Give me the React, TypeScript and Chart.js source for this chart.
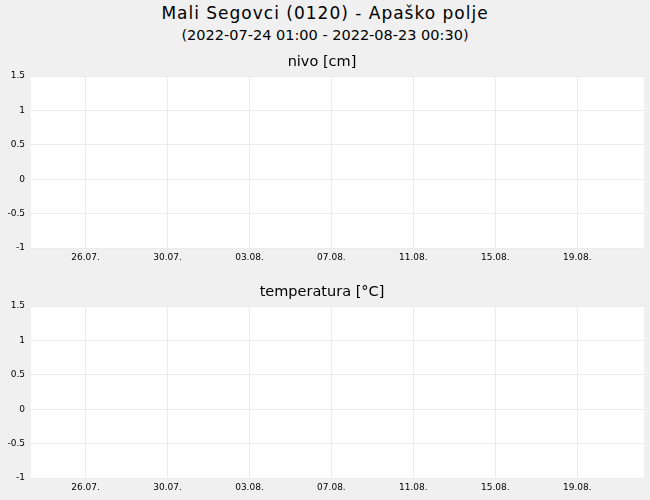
import React, { useEffect, useRef } from "react";
import { Chart, registerables } from "chart.js";

Chart.register(...registerables);

const chartTitle = "Mali Segovci (0120) - Apaško polje";
const chartSubtitle = "(2022-07-24 01:00 - 2022-08-23 00:30)";
const panelTitles = ["nivo [cm]", "temperatura [°C]"];

// no measurements in the period: both series are empty
const nivoValues: { x: number; y: number }[] = [];
const temperaturaValues: { x: number; y: number }[] = [];

const xMin = Date.UTC(2022, 6, 23, 8, 5);
const xMax = Date.UTC(2022, 7, 22, 6, 10);
const xTickDates = [
  Date.UTC(2022, 6, 26),
  Date.UTC(2022, 6, 30),
  Date.UTC(2022, 7, 3),
  Date.UTC(2022, 7, 7),
  Date.UTC(2022, 7, 11),
  Date.UTC(2022, 7, 15),
  Date.UTC(2022, 7, 19),
];
const yMin = -1;
const yMax = 1.5;
const yStep = 0.5;

const FONT = "'DejaVu Sans', sans-serif";
const GRID = "#ebebeb";

function fmtDate(v: number) {
  const d = new Date(v);
  const dd = String(d.getUTCDate()).padStart(2, "0");
  const mm = String(d.getUTCMonth() + 1).padStart(2, "0");
  return `${dd}.${mm}.`;
}

const plotBg = {
  id: "plotBg",
  beforeDraw(chart: any) {
    const { ctx, chartArea } = chart;
    if (!chartArea) return;
    ctx.save();
    ctx.fillStyle = "#ffffff";
    ctx.fillRect(chartArea.left, chartArea.top, chartArea.right - chartArea.left, chartArea.bottom - chartArea.top);
    ctx.restore();
  },
};

function Panel({ title, values, top }: { title: string; values: { x: number; y: number }[]; top: number }) {
  const ref = useRef<HTMLCanvasElement | null>(null);
  useEffect(() => {
    if (!ref.current) return;
    const chart = new Chart(ref.current, {
      type: "line",
      data: {
        datasets: [
          {
            label: title,
            data: values,
            borderColor: "#1f5fbf",
            borderWidth: 1,
            pointRadius: 0,
          },
        ],
      },
      options: {
        animation: false,
        responsive: false,
        devicePixelRatio: 1,
        layout: { padding: { left: 0, right: 6, top: 0, bottom: 0 } },
        plugins: {
          legend: { display: false },
          tooltip: { enabled: false },
          title: {
            display: true,
            text: title,
            color: "#000",
            font: { family: FONT, size: 14.5, weight: "normal", lineHeight: 1 },
            padding: { top: 9, bottom: 6.5 },
          },
        },
        scales: {
          x: {
            type: "linear",
            min: xMin,
            max: xMax,
            grid: { color: GRID, drawTicks: false },
            border: { display: false },
            ticks: {
              color: "#000",
              font: { family: FONT, size: 9 },
              padding: 4,
              maxRotation: 0,
              autoSkip: false,
              callback: (v: any) => fmtDate(Number(v)),
            },
            afterBuildTicks: (s: any) => {
              s.ticks = xTickDates.map((v) => ({ value: v }));
            },
            afterFit: (s: any) => {
              s.height = 20;
            },
          },
          y: {
            min: yMin,
            max: yMax,
            grid: { color: GRID, drawTicks: false },
            border: { display: false },
            ticks: {
              stepSize: yStep,
              color: "#000",
              font: { family: FONT, size: 9 },
              padding: 6,
              callback: (v: any) => String(Number(v)),
            },
            afterFit: (s: any) => {
              s.width = 31;
            },
          },
        },
      },
      plugins: [plotBg],
    } as any);
    return () => chart.destroy();
  }, [title, values]);
  return (
    <div style={{ position: "absolute", left: 0, top, width: 650, height: 222 }}>
      <canvas ref={ref} width={650} height={222} style={{ display: "block" }} />
    </div>
  );
}

export default function App() {
  return (
    <div
      style={{
        position: "absolute",
        left: 0,
        top: 0,
        width: 650,
        height: 500,
        background: "#f0f0f0",
        fontFamily: FONT,
        color: "#000",
        overflow: "hidden",
      }}
    >
      <div
        style={{
          position: "absolute",
          top: 3,
          left: 0,
          width: 650,
          textAlign: "center",
          fontSize: 17,
          lineHeight: "20px",
          fontWeight: "normal",
          letterSpacing: "1px",
        }}
      >
        {chartTitle}
      </div>
      <div
        style={{
          position: "absolute",
          top: 25.5,
          left: 0,
          width: 650,
          textAlign: "center",
          fontSize: 14.5,
          lineHeight: "18px",
        }}
      >
        {chartSubtitle}
      </div>
      <Panel title={panelTitles[0]} values={nivoValues} top={46} />
      <Panel title={panelTitles[1]} values={temperaturaValues} top={276} />
    </div>
  );
}
